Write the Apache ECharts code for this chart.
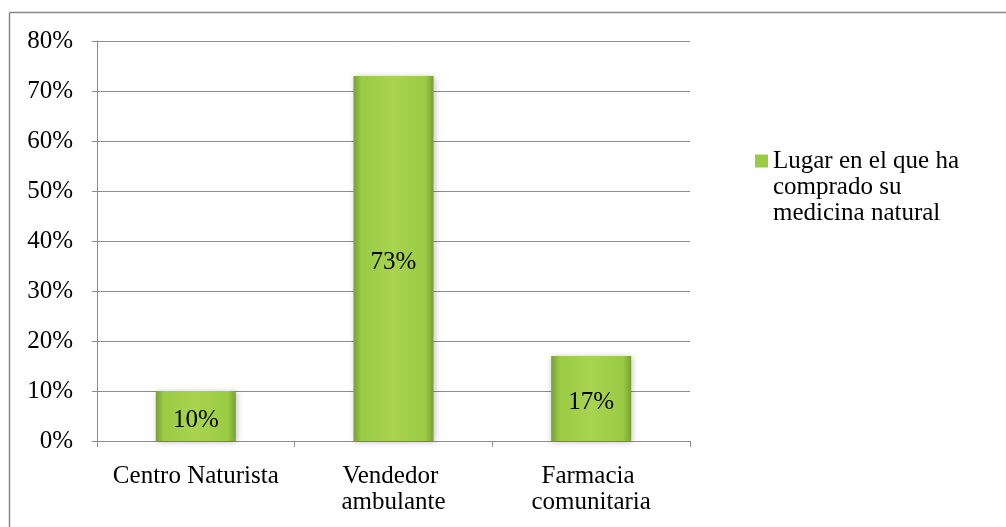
<!DOCTYPE html>
<html>
<head>
<meta charset="utf-8">
<script src="https://cdn.jsdelivr.net/npm/echarts@6/dist/echarts.min.js"></script>
<style>
  html, body { margin: 0; padding: 0; background: #fff; }
  #chart { width: 1006px; height: 527px; }
</style>
</head>
<body>
<div id="chart"></div>
<script>
// Where respondents bought their natural medicine (share of answers, %)
const categories = ['Centro Naturista', 'Vendedor ambulante', 'Farmacia comunitaria'];
const values = [10, 73, 17];
const seriesName = 'Lugar en el que ha comprado su medicina natural';
const legendLines = ['Lugar en el que ha', 'comprado su', 'medicina natural'];
const yTicks = [0, 10, 20, 30, 40, 50, 60, 70, 80];

const FONT = '"Liberation Serif", "Times New Roman", serif';
const FS = 25;
const GRID_GRAY = '#8c8c8c';

const barFill = new echarts.graphic.LinearGradient(0, 0, 1, 0, [
  { offset: 0, color: '#7a9f36' },
  { offset: 0.1, color: '#9acb45' },
  { offset: 0.5, color: '#a8d44f' },
  { offset: 0.9, color: '#9acb45' },
  { offset: 1, color: '#7a9f36' }
]);

const chart = echarts.init(document.getElementById('chart'), null, { renderer: 'canvas' });

chart.setOption({
  animation: false,
  backgroundColor: '#ffffff',
  textStyle: { fontFamily: FONT },
  graphic: [
    { type: 'line', shape: { x1: 9.5, y1: 12.5, x2: 1006, y2: 12.5 }, style: { stroke: '#8a8a8a', lineWidth: 1.5 } },
    { type: 'line', shape: { x1: 9.5, y1: 12.5, x2: 9.5, y2: 527 }, style: { stroke: '#8a8a8a', lineWidth: 1.5 } }
  ],
  grid: { left: 97, right: 316, top: 41, bottom: 86, containLabel: false },
  legend: {
    left: 750,
    top: 91,
    orient: 'vertical',
    itemWidth: 13,
    itemHeight: 13,
    itemGap: 0,
    icon: 'rect',
    // two blank lines on top keep the swatch level with the first text line
    formatter: function () { return '\n\n' + legendLines.join('\n'); },
    textStyle: {
      fontFamily: FONT,
      fontSize: FS,
      color: '#000',
      lineHeight: 26
    },
    data: [{ name: seriesName, itemStyle: { color: '#9acb45' } }]
  },
  xAxis: {
    type: 'category',
    data: categories,
    axisLine: { lineStyle: { color: GRID_GRAY, width: 1 } },
    axisTick: { show: true, alignWithLabel: false, length: 6, lineStyle: { color: GRID_GRAY } },
    axisLabel: {
      fontFamily: FONT,
      fontSize: FS,
      color: '#000',
      margin: 22,
      width: 190,
      overflow: 'break',
      lineHeight: 26,
      interval: 0
    }
  },
  yAxis: {
    type: 'value',
    min: 0,
    max: 80,
    interval: 10,
    axisLine: { show: true, lineStyle: { color: GRID_GRAY, width: 1 } },
    axisTick: { show: true, length: 5, lineStyle: { color: GRID_GRAY } },
    splitLine: { show: true, lineStyle: { color: GRID_GRAY, width: 1 } },
    axisLabel: {
      fontFamily: FONT,
      fontSize: FS,
      color: '#000',
      margin: 24,
      formatter: function (v) { return yTicks.indexOf(v) >= 0 ? v + '%' : ''; }
    }
  },
  series: [{
    name: seriesName,
    type: 'bar',
    data: values,
    barWidth: 80,
    itemStyle: {
      color: barFill,
      shadowColor: 'rgba(0,0,0,0.25)',
      shadowBlur: 6,
      shadowOffsetX: 1,
      shadowOffsetY: 1
    },
    label: {
      show: true,
      position: 'inside',
      offset: [0, 4],
      fontFamily: FONT,
      fontSize: FS,
      color: '#000',
      formatter: function (p) { return p.value + '%'; }
    }
  }]
});
</script>
</body>
</html>
